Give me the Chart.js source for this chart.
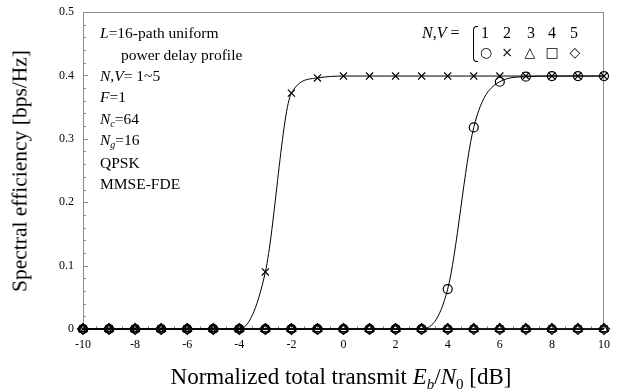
<!DOCTYPE html>
<html>
<head>
<meta charset="utf-8">
<script src="https://cdn.jsdelivr.net/npm/chart.js@4/dist/chart.umd.min.js"></script>
<style>
    body { margin: 0; background: #fff; }
    #wrap { position: relative; width: 620px; height: 392px; font-family: 'Liberation Serif', serif; color: #000; }
    .note { position: absolute; font-size: 15.5px; line-height: 16px; white-space: nowrap; }
    .note i { font-style: italic; }
    .note sub { font-size: 10px; vertical-align: -3px; line-height: 0; }
    #ytitle { position: absolute; left: 20px; top: 171px; transform: translate(-50%, -50%) rotate(-90deg); font-size: 21.5px; white-space: nowrap; }
    #xtitle { position: absolute; left: 341px; top: 377px; transform: translate(-50%, -50%); font-size: 23px; white-space: nowrap; }
    #xtitle sub { font-size: 15px; vertical-align: -5px; line-height: 0; }
    .sym { position: absolute; font-family: 'DejaVu Sans', sans-serif; font-size: 14px; line-height: 14px; transform: translate(-50%, -50%); }
    .num { position: absolute; font-size: 16px; line-height: 16px; transform: translate(-50%, -50%); }
    #bracket { position: absolute; left: 473px; top: 26px; width: 4px; height: 34px; border: 1px solid #000; border-right: none; border-radius: 4px 0 0 4px; }
</style>
</head>
<body>
<div id="wrap">
    <canvas id="chart" width="620" height="392"></canvas>

    <div class="note" style="left:100px;top:25px"><i>L</i>=16-path uniform</div>
    <div class="note" style="left:121px;top:47px">power delay profile</div>
    <div class="note" style="left:100px;top:68px"><i>N</i>,<i>V</i>= 1~5</div>
    <div class="note" style="left:100px;top:89px"><i>F</i>=1</div>
    <div class="note" style="left:100px;top:111px"><i>N<sub>c</sub></i>=64</div>
    <div class="note" style="left:100px;top:132px"><i>N<sub>g</sub></i>=16</div>
    <div class="note" style="left:100px;top:155px">QPSK</div>
    <div class="note" style="left:100px;top:176px">MMSE-FDE</div>

    <div class="note" style="left:422px;top:25px;font-size:16px"><i>N</i>,<i>V</i>&nbsp;=</div>
    <div id="bracket"></div>
    <div class="num" style="left:485px;top:33px">1</div>
    <div class="num" style="left:507px;top:33px">2</div>
    <div class="num" style="left:531px;top:33px">3</div>
    <div class="num" style="left:552px;top:33px">4</div>
    <div class="num" style="left:574px;top:33px">5</div>
    <div class="sym" style="left:486px;top:52px">○</div>
    <div class="sym" style="left:507px;top:52px">×</div>
    <div class="sym" style="left:530px;top:52px">△</div>
    <div class="sym" style="left:552px;top:52px">□</div>
    <div class="sym" style="left:575px;top:52px">◇</div>

    <div id="ytitle">Spectral efficiency [bps/Hz]</div>
    <div id="xtitle">Normalized total transmit <i>E<sub>b</sub></i>/<i>N</i><sub>0</sub> [dB]</div>
</div>

<script>
// Eb/N0 [dB]
const snrDb = [-10, -9, -8, -7, -6, -5, -4, -3, -2, -1, 0, 1, 2, 3, 4, 5, 6, 7, 8, 9, 10];

// spectral efficiency for N,V = 1..5
const seNV1 = [0, 0, 0, 0, 0, 0, 0, 0, 0, 0, 0, 0, 0, 0, 0.063, 0.318, 0.390, 0.398, 0.399, 0.399, 0.399];
const seNV2 = [0, 0, 0, 0, 0, 0, 0, 0.090, 0.372, 0.396, 0.399, 0.399, 0.399, 0.399, 0.399, 0.399, 0.399, 0.399, 0.399, 0.399, 0.399];
const seNV3 = [0, 0, 0, 0, 0, 0, 0, 0, 0, 0, 0, 0, 0, 0, 0, 0, 0, 0, 0, 0, 0];
const seNV4 = [0, 0, 0, 0, 0, 0, 0, 0, 0, 0, 0, 0, 0, 0, 0, 0, 0, 0, 0, 0, 0];
const seNV5 = [0, 0, 0, 0, 0, 0, 0, 0, 0, 0, 0, 0, 0, 0, 0, 0, 0, 0, 0, 0, 0];

const seriesValues = [seNV1, seNV2, seNV3, seNV4, seNV5];
const markerStyles = ['circle', 'crossRot', 'triangle', 'rect', 'rectRot'];
const markerSizes = [4.5, 5, 5, 4.5, 5.5];

const xTicks = [-10, -8, -6, -4, -2, 0, 2, 4, 6, 8, 10];
const yTicks = [0, 0.1, 0.2, 0.3, 0.4, 0.5];

const axisGray = '#8c8c8c';

function toPoints(values) {
    return values.map((v, i) => ({ x: snrDb[i], y: v }));
}

// small inward ticks and the frame around the plot area
const frameTicks = {
    id: 'frameTicks',
    beforeDatasetsDraw(chart) {
        const ctx = chart.ctx;
        const area = chart.chartArea;
        const xs = chart.scales.x;
        const ys = chart.scales.y;
        ctx.save();
        ctx.strokeStyle = axisGray;
        ctx.lineWidth = 1;
        ctx.strokeRect(area.left + 0.5, area.top + 0.5, area.right - area.left - 1, area.bottom - area.top);

        ctx.beginPath();
        for (let i = 0; i <= 25; i++) {
            const v = i * 0.02;
            const py = Math.round(ys.getPixelForValue(v)) + 0.5;
            const len = (i % 5 == 0) ? 5 : 3;
            ctx.moveTo(area.left, py);
            ctx.lineTo(area.left + len, py);
        }
        for (let i = 0; i <= 40; i++) {
            const v = -10 + i * 0.5;
            const px = Math.round(xs.getPixelForValue(v)) + 0.5;
            const len = (i % 4 == 0) ? 5 : 3;
            ctx.moveTo(px, area.bottom);
            ctx.lineTo(px, area.bottom - len);
        }
        ctx.stroke();
        ctx.restore();
    }
};

new Chart(document.getElementById('chart'), {
    type: 'line',
    data: {
        datasets: seriesValues.map((values, i) => ({
            label: 'N,V=' + (i + 1),
            data: toPoints(values),
            borderColor: '#000',
            borderWidth: 1,
            cubicInterpolationMode: 'monotone',
            pointStyle: markerStyles[i],
            pointRadius: markerSizes[i],
            pointBorderColor: '#000',
            pointBackgroundColor: 'rgba(0,0,0,0)',
            pointBorderWidth: 1.2,
            clip: false,
            fill: false
        }))
    },
    options: {
        responsive: false,
        devicePixelRatio: 1,
        animation: false,
        layout: { padding: { top: 12, right: 16, left: 0, bottom: 0 } },
        plugins: {
            legend: { display: false },
            tooltip: { enabled: false }
        },
        scales: {
            x: {
                type: 'linear',
                min: -10,
                max: 10,
                afterBuildTicks: (scale) => { scale.ticks = xTicks.map(v => ({ value: v })); },
                afterFit: (scale) => { scale.height = 63; scale.paddingLeft = 0; scale.paddingRight = 0; },
                ticks: {
                    color: '#000',
                    padding: 9,
                    maxRotation: 0,
                    font: { family: 'Liberation Serif', size: 12 }
                },
                grid: { drawOnChartArea: false, drawTicks: false },
                border: { display: false }
            },
            y: {
                min: 0,
                max: 0.5,
                afterBuildTicks: (scale) => { scale.ticks = yTicks.map(v => ({ value: v })); },
                afterFit: (scale) => { scale.width = 83; scale.paddingTop = 0; scale.paddingBottom = 0; },
                ticks: {
                    color: '#000',
                    padding: 9,
                    font: { family: 'Liberation Serif', size: 12 },
                    callback: (v) => String(+v.toFixed(1))
                },
                grid: { drawOnChartArea: false, drawTicks: false },
                border: { display: false }
            }
        }
    },
    plugins: [frameTicks]
});
</script>
</body>
</html>
